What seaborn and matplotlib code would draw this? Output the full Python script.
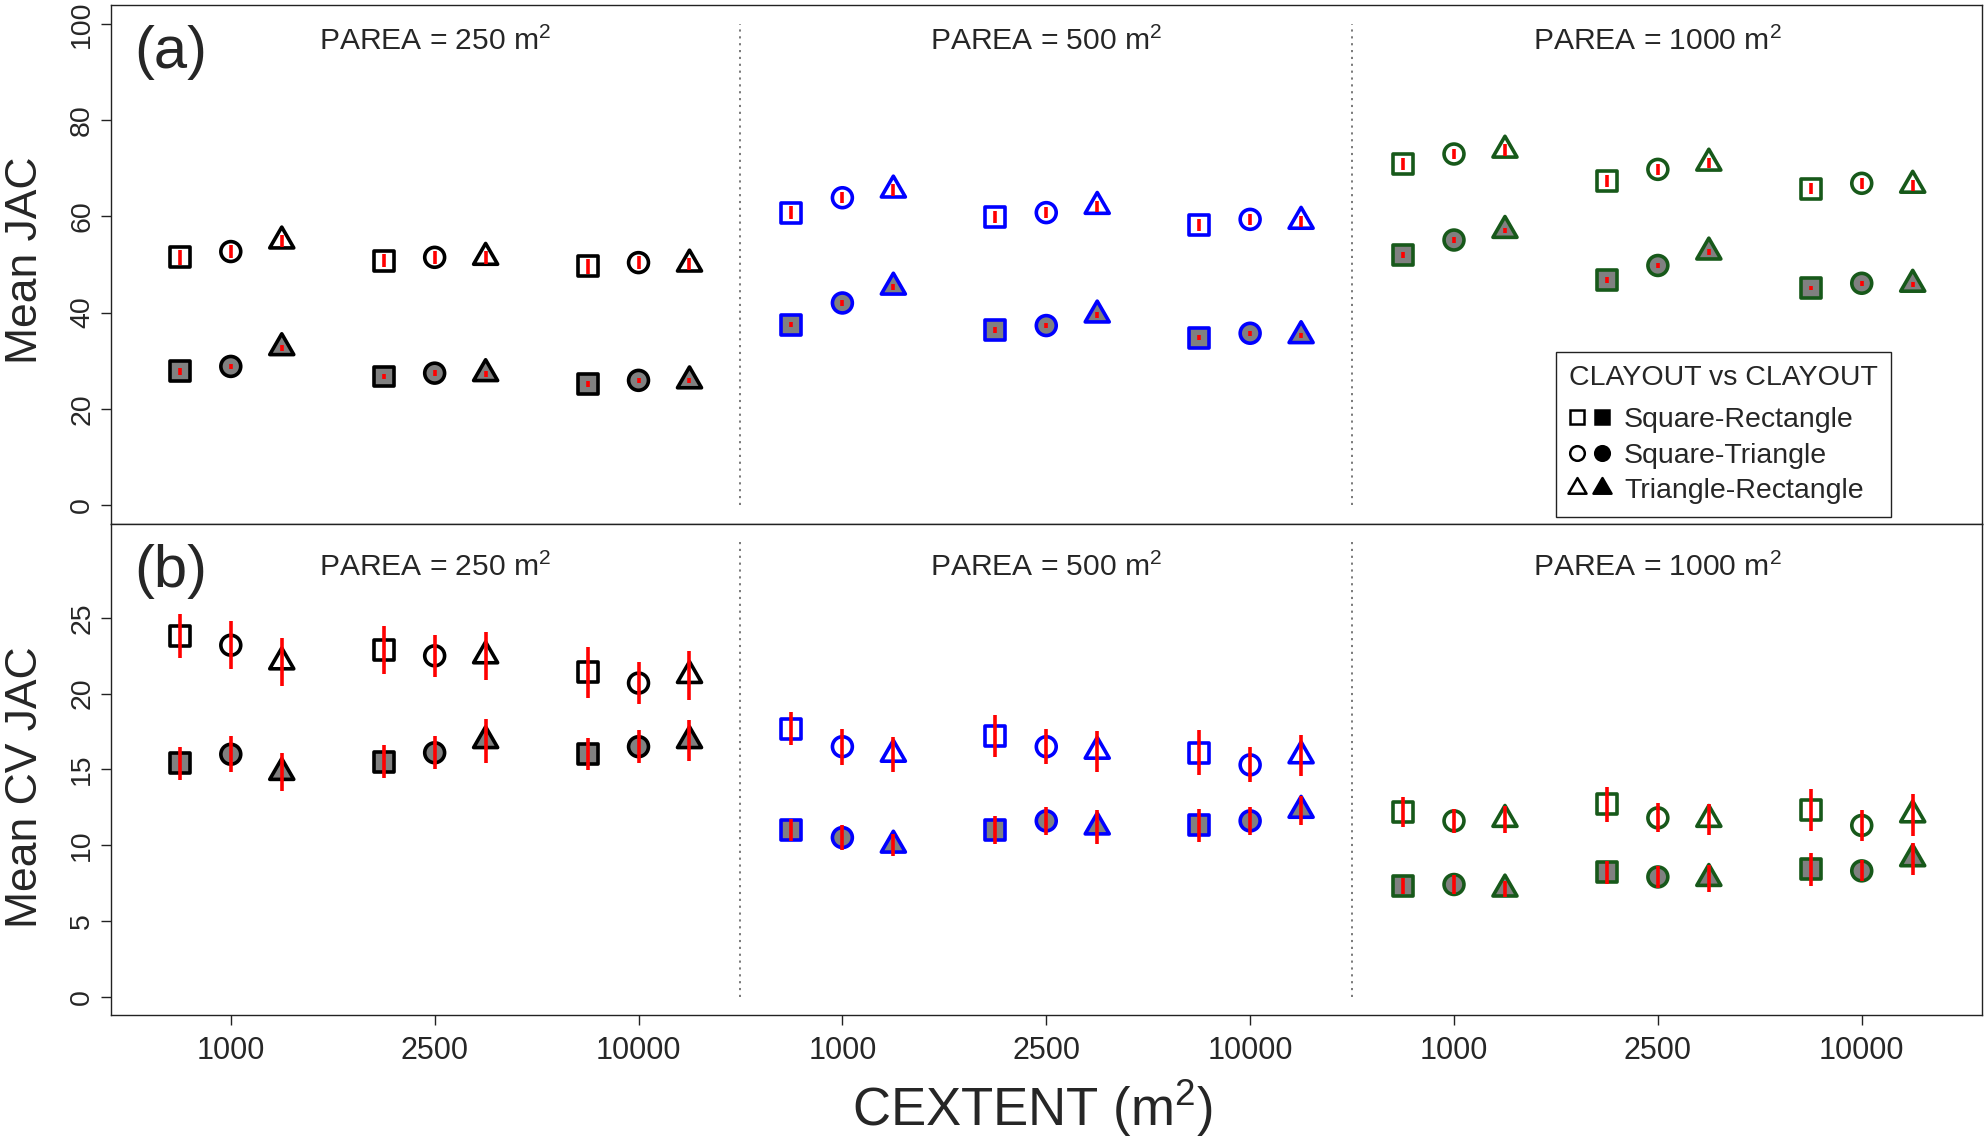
import numpy as np
import pandas as pd
import matplotlib
matplotlib.use("Agg")
import matplotlib.pyplot as plt
import seaborn as sns
from matplotlib.path import Path
from matplotlib.lines import Line2D
from matplotlib.legend_handler import HandlerTuple

# ---------------- data ----------------
PAREA = [250, 500, 1000]
CEXTENT = ["1000", "2500", "10000"]
COMPARISONS = ["Square-Rectangle", "Square-Triangle", "Triangle-Rectangle"]

# order of 9 values: PAREA 250 (CEXTENT 1000, 2500, 10000), PAREA 500 (...), PAREA 1000 (...)
# Panel (a): Mean JAC
jac_open_SR = [51.5, 50.8, 49.6, 60.8, 59.9, 58.2, 70.9, 67.4, 65.8]
jac_open_ST = [52.7, 51.5, 50.4, 63.9, 60.8, 59.4, 73.0, 69.8, 66.9]
jac_open_TR = [54.9, 51.5, 50.1, 65.5, 62.1, 59.0, 73.8, 71.1, 66.5]
jac_filled_SR = [27.8, 26.7, 25.2, 37.5, 36.4, 34.8, 52.0, 46.8, 45.1]
jac_filled_ST = [28.8, 27.4, 25.9, 42.0, 37.3, 35.7, 55.1, 49.8, 46.1]
jac_filled_TR = [32.7, 27.3, 25.8, 45.3, 39.5, 35.2, 57.1, 52.6, 45.9]
jac_open_err_SR = [1.5, 1.4, 1.5, 1.3, 1.3, 1.2, 1.3, 1.2, 1.2]
jac_open_err_ST = [1.4, 1.3, 1.3, 1.2, 1.2, 1.2, 1.1, 1.1, 1.1]
jac_open_err_TR = [1.3, 1.3, 1.3, 1.2, 1.2, 1.1, 1.2, 1.1, 1.1]
jac_filled_err_SR = [0.7, 0.6, 0.6, 0.6, 0.6, 0.5, 0.6, 0.6, 0.5]
jac_filled_err_ST = [0.6, 0.6, 0.5, 0.6, 0.6, 0.5, 0.6, 0.6, 0.5]
jac_filled_err_TR = [0.6, 0.6, 0.5, 0.6, 0.6, 0.5, 0.6, 0.6, 0.5]

# Panel (b): Mean CV JAC
cv_open_SR = [23.8, 22.9, 21.4, 17.7, 17.2, 16.1, 12.2, 12.7, 12.3]
cv_open_ST = [23.2, 22.5, 20.7, 16.5, 16.5, 15.3, 11.6, 11.8, 11.3]
cv_open_TR = [22.1, 22.5, 21.2, 16.0, 16.2, 15.9, 11.7, 11.7, 12.0]
cv_filled_SR = [15.4, 15.5, 16.0, 11.0, 11.0, 11.3, 7.3, 8.2, 8.4]
cv_filled_ST = [16.0, 16.1, 16.5, 10.5, 11.6, 11.6, 7.4, 7.9, 8.3]
cv_filled_TR = [14.8, 16.9, 16.9, 10.0, 11.2, 12.3, 7.1, 7.8, 9.1]
cv_open_err_SR = [1.45, 1.6, 1.7, 1.1, 1.4, 1.5, 1.0, 1.15, 1.4]
cv_open_err_ST = [1.6, 1.4, 1.4, 1.2, 1.15, 1.15, 0.8, 0.95, 1.0]
cv_open_err_TR = [1.6, 1.6, 1.65, 1.15, 1.35, 1.35, 0.9, 1.0, 1.4]
cv_filled_err_SR = [1.1, 1.1, 1.05, 0.75, 0.9, 1.1, 0.5, 0.75, 1.1]
cv_filled_err_ST = [1.2, 1.1, 1.1, 0.8, 0.9, 0.9, 0.6, 0.75, 0.7]
cv_filled_err_TR = [1.25, 1.45, 1.35, 0.75, 1.1, 0.95, 0.55, 0.9, 1.05]

# ---------------- styles ----------------
EDGE_COLORS = ["black", "#0000FF", "#17591a"]
FACE = {"open": "white", "filled": "#808080"}
OFFSETS = {"Square-Rectangle": -0.25, "Square-Triangle": 0.0, "Triangle-Rectangle": 0.25}
TRIANGLE = Path([(0, 1), (-0.8660254, -0.5), (0.8660254, -0.5), (0, 1)],
                [Path.MOVETO, Path.LINETO, Path.LINETO, Path.CLOSEPOLY])
MARKERS = {"Square-Rectangle": "s", "Square-Triangle": "o", "Triangle-Rectangle": TRIANGLE}
SIZES = {"Square-Rectangle": 207, "Square-Triangle": 205, "Triangle-Rectangle": 400}

series = {
    "a": {("Square-Rectangle", "open"): (jac_open_SR, jac_open_err_SR),
          ("Square-Triangle", "open"): (jac_open_ST, jac_open_err_ST),
          ("Triangle-Rectangle", "open"): (jac_open_TR, jac_open_err_TR),
          ("Square-Rectangle", "filled"): (jac_filled_SR, jac_filled_err_SR),
          ("Square-Triangle", "filled"): (jac_filled_ST, jac_filled_err_ST),
          ("Triangle-Rectangle", "filled"): (jac_filled_TR, jac_filled_err_TR)},
    "b": {("Square-Rectangle", "open"): (cv_open_SR, cv_open_err_SR),
          ("Square-Triangle", "open"): (cv_open_ST, cv_open_err_ST),
          ("Triangle-Rectangle", "open"): (cv_open_TR, cv_open_err_TR),
          ("Square-Rectangle", "filled"): (cv_filled_SR, cv_filled_err_SR),
          ("Square-Triangle", "filled"): (cv_filled_ST, cv_filled_err_ST),
          ("Triangle-Rectangle", "filled"): (cv_filled_TR, cv_filled_err_TR)},
}

rows = []
for panel, d in series.items():
    for (comp, kind), (vals, errs) in d.items():
        for g, (v, e) in enumerate(zip(vals, errs)):
            rows.append(dict(panel=panel, comp=comp, kind=kind,
                             parea=PAREA[g // 3], cextent=CEXTENT[g % 3],
                             group=g + 1, x=g + 1 + OFFSETS[comp], y=v, err=e,
                             edge=EDGE_COLORS[g // 3]))
df = pd.DataFrame(rows)

# ---------------- figure ----------------
sns.set_style("ticks")
plt.rcParams["font.family"] = ["Liberation Sans", "DejaVu Sans"]
plt.rcParams["mathtext.fontset"] = "custom"
plt.rcParams["mathtext.rm"] = "Liberation Sans"
plt.rcParams["mathtext.it"] = "Liberation Sans"
plt.rcParams["mathtext.bf"] = "Liberation Sans"
plt.rcParams["mathtext.default"] = "regular"

fig = plt.figure(figsize=(19.84, 11.38), dpi=100)
ax_a = fig.add_axes([0.0557, 0.5395, 0.9433, 0.4561])
ax_b = fig.add_axes([0.0557, 0.1083, 0.9433, 0.4312])

panel_cfg = {
    "a": dict(ax=ax_a, ylim=(-4, 104), yticks=np.arange(0, 101, 20), ytop=100,
              label="(a)", ylabel="Mean JAC", title_y=94.6, lab_y=94.1, ylab_y=0.509),
    "b": dict(ax=ax_b, ylim=(-1.2, 31.2), yticks=np.arange(0, 26, 5), ytop=30,
              label="(b)", ylabel="Mean CV JAC", title_y=27.8, lab_y=28.07, ylab_y=0.463),
}

for panel, cfg in panel_cfg.items():
    ax = cfg["ax"]
    sub_panel = df[df.panel == panel]
    for (comp, kind), sub in sub_panel.groupby(["comp", "kind"], sort=False):
        sns.scatterplot(data=sub, x="x", y="y", ax=ax, marker=MARKERS[comp],
                        s=SIZES[comp], color=FACE[kind], edgecolor=sub["edge"].tolist(),
                        linewidth=2.6, legend=False, zorder=3)
        ax.errorbar(sub["x"], sub["y"], yerr=sub["err"], fmt="none", ecolor="#FF0000",
                    elinewidth=2.6, capsize=0, zorder=4)
    ax.vlines([3.5, 6.5], 0, cfg["ytop"], colors="#6e6e6e", linestyles=(0, (1.2, 2.6)),
              linewidth=1.3, zorder=1)
    ax.set_xlim(0.41, 9.59)
    ax.set_ylim(*cfg["ylim"])
    ax.set_yticks(cfg["yticks"])
    ax.set_yticklabels([str(int(t)) for t in cfg["yticks"]])
    ax.set_xlabel("")
    ax.set_ylabel("")
    for sp in ax.spines.values():
        sp.set_visible(True)
        sp.set_linewidth(1.0)
        sp.set_color("#222222")
    ax.tick_params(axis="y", direction="out", length=7.5, width=1.0, pad=3.5,
                   labelsize=20.5, labelrotation=90, color="#222222")
    for t in ax.get_yticklabels():
        t.set_va("center")
    for i, pa in enumerate(PAREA):
        ax.text(2 + 3 * i, cfg["title_y"], f"PAREA = {pa} m$^{{2}}$", ha="center",
                va="baseline", fontsize=21.6)
    ax.text(0.706, cfg["lab_y"], cfg["label"], ha="center", va="center", fontsize=43)
    ax.text(-0.0393, cfg["ylab_y"], cfg["ylabel"], transform=ax.transAxes, rotation=90,
            rotation_mode="anchor", ha="center", va="baseline", fontsize=32)

ax_a.tick_params(axis="x", bottom=False, labelbottom=False)
ax_b.set_xticks(np.arange(1, 10))
ax_b.set_xticklabels(CEXTENT * 3)
ax_b.tick_params(axis="x", direction="out", length=7.5, width=1.0, pad=8,
                 labelsize=22, color="#222222")
ax_b.text(0.4924, -0.2275, "CEXTENT (m$^{2}$)", transform=ax_b.transAxes, ha="center",
          va="baseline", fontsize=38)

# legend
handles = []
for comp in COMPARISONS:
    ms = 10.5 if comp != "Triangle-Rectangle" else 15
    m = MARKERS[comp]
    h_open = Line2D([], [], linestyle="none", marker=m, markersize=ms,
                    markerfacecolor="white", markeredgecolor="black", markeredgewidth=1.8)
    h_fill = Line2D([], [], linestyle="none", marker=m, markersize=ms,
                    markerfacecolor="black", markeredgecolor="black", markeredgewidth=1.8)
    handles.append((h_open, h_fill))
leg = ax_a.legend(handles, COMPARISONS,
                  handler_map={tuple: HandlerTuple(ndivide=None, pad=0.32)},
                  title="CLAYOUT vs CLAYOUT", title_fontsize=20.5, fontsize=20.5,
                  loc="lower left", bbox_to_anchor=(0.7724, 0.0135), borderaxespad=0,
                  borderpad=0.45, handlelength=1.44, handletextpad=0.5, labelspacing=0.33,
                  alignment="left", fancybox=False, framealpha=1, edgecolor="#222222")
leg._legend_box.sep = 12
leg.get_frame().set_linewidth(1.0)
leg.set_zorder(5)

fig.savefig("out.png", dpi=100)
